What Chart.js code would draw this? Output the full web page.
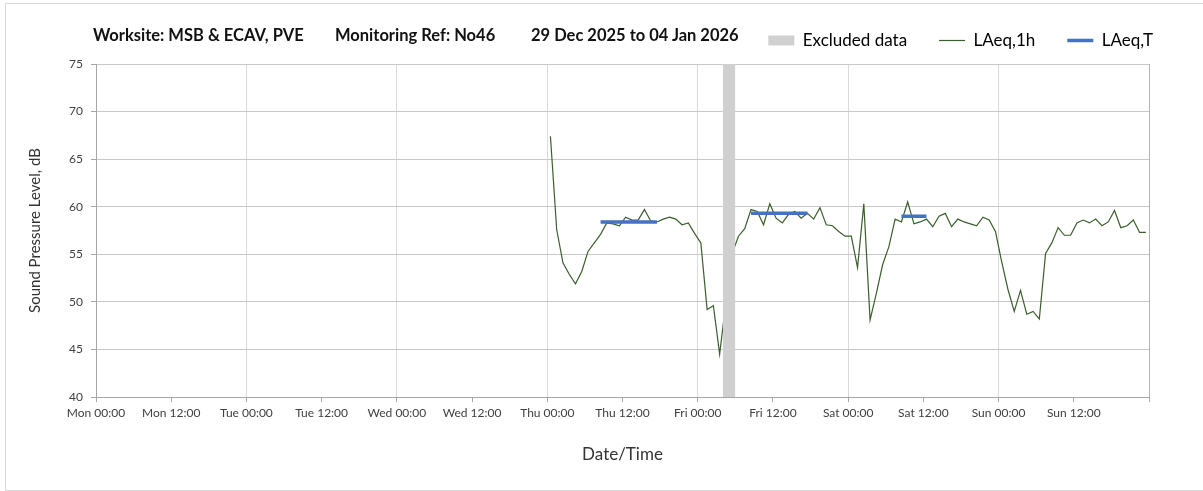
<!DOCTYPE html>
<html>
<head>
<meta charset="utf-8">
<script src="https://cdn.jsdelivr.net/npm/chart.js@4.4.1/dist/chart.umd.min.js"></script>
<style>
  html, body { margin: 0; padding: 0; background: #fff; overflow: hidden; }
  #frame { position: absolute; left: 5px; top: 3px; width: 1250px; height: 486px; border: 1px solid #d9d9d9; }
  #wrap { position: absolute; left: 0; top: 0; width: 1203px; height: 491px; }
  .ttl { position: absolute; top: 25px; font: bold 16.5px Lato, "Open Sans", sans-serif; color: #111; line-height: 20px; white-space: nowrap; }
</style>
</head>
<body>
<div id="frame"></div>
<div id="wrap">
  <canvas id="noiseChart" width="1203" height="491"></canvas>
  <div class="ttl" style="left:93px">Worksite: MSB &amp; ECAV, PVE</div>
  <div class="ttl" style="left:335px">Monitoring Ref: No46</div>
  <div class="ttl" style="left:531px">29 Dec 2025 to 04 Jan 2026</div>
</div>
<script>
// hours counted from Mon 00:00; hourly values are plotted at the middle of each hour
const xTickLabels = ['Mon 00:00', 'Mon 12:00', 'Tue 00:00', 'Tue 12:00', 'Wed 00:00', 'Wed 12:00',
  'Thu 00:00', 'Thu 12:00', 'Fri 00:00', 'Fri 12:00', 'Sat 00:00', 'Sat 12:00', 'Sun 00:00', 'Sun 12:00', ''];
const yTicks = [40, 45, 50, 55, 60, 65, 70, 75];

const firstHour = 72.5; // Thu 00:30
const laeq1h = [
  67.4, 57.6, 54.1, 52.9, 51.9, 53.2, 55.3, 56.2, 57.1, 58.3, 58.2, 58.0,
  58.9, 58.6, 58.6, 59.7, 58.5, 58.4, 58.7, 58.9, 58.7, 58.1, 58.3, 57.2,
  56.2, 49.2, 49.6, 44.5, 50.0, 55.1, 56.9, 57.7, 59.7, 59.5, 58.1, 60.3,
  58.8, 58.3, 59.2, 59.5, 58.8, 59.3, 58.7, 59.9, 58.1, 58.0, 57.4, 56.9,
  56.9, 53.6, 60.3, 48.1, 50.9, 53.9, 55.8, 58.7, 58.4, 60.5, 58.2, 58.4,
  58.7, 57.9, 59.0, 59.3, 57.9, 58.7, 58.4, 58.2, 58.0, 58.9, 58.6, 57.4,
  54.2, 51.3, 49.0, 51.2, 48.7, 49.0, 48.2, 55.1, 56.2, 57.8, 57.0, 57.0,
  58.3, 58.6, 58.3, 58.7, 58.0, 58.4, 59.6, 57.8, 58.0, 58.6, 57.3, 57.3
];

// LAeq,T periods
const laeqTStart = [80.5, 104.5, 128.5];
const laeqTEnd = [89.5, 113.5, 132.5];
const laeqTValues = [58.4, 59.3, 59.0];

// excluded data windows
const excludedStart = [100];
const excludedEnd = [102];

const lineColor = '#3a5f2c';
const blueColor = '#4472c4';
const greyFill = '#d0d0d0';

const laeqPoints = laeq1h.map((v, i) => ({ x: firstHour + i, y: v }));

const laeqTPoints = [];
laeqTValues.forEach((v, i) => {
  laeqTPoints.push({ x: laeqTStart[i], y: v }, { x: laeqTEnd[i], y: v });
  laeqTPoints.push({ x: laeqTEnd[i] + 0.5, y: null });
});

const excludedPoints = [];
excludedStart.forEach((s, i) => {
  excludedPoints.push({ x: s, y: 75 }, { x: excludedEnd[i], y: 75 });
});

Chart.defaults.font.family = 'Lato, "Open Sans", sans-serif';
Chart.defaults.color = '#404040';

new Chart(document.getElementById('noiseChart'), {
  type: 'line',
  data: {
    datasets: [
      {
        label: 'Excluded data',
        data: excludedPoints,
        borderWidth: 0,
        borderColor: greyFill,
        backgroundColor: greyFill,
        fill: 'start',
        pointRadius: 0
      },
      {
        label: 'LAeq,T',
        data: laeqTPoints,
        borderColor: blueColor,
        borderWidth: 3.5,
        pointRadius: 0,
        spanGaps: false
      },
      {
        label: 'LAeq,1h',
        data: laeqPoints,
        borderColor: lineColor,
        borderWidth: 1.2,
        pointRadius: 0,
        tension: 0
      }
    ]
  },
  options: {
    responsive: false,
    animation: false,
    layout: { padding: { top: 0, right: 18, bottom: 0, left: 0 } },
    plugins: {
      tooltip: { enabled: false },
      legend: {
        position: 'top',
        align: 'end',
        labels: {
          usePointStyle: true,
          pointStyleWidth: 26,
          boxHeight: 10,
          padding: 32,
          color: '#333',
          font: { size: 17 },
          generateLabels: function() {
            return [
              { text: 'Excluded data', pointStyle: 'rect', fillStyle: greyFill, strokeStyle: greyFill, lineWidth: 0, datasetIndex: 0 },
              { text: 'LAeq,1h', pointStyle: 'line', fillStyle: lineColor, strokeStyle: lineColor, lineWidth: 1.2, datasetIndex: 2 },
              { text: 'LAeq,T', pointStyle: 'line', fillStyle: blueColor, strokeStyle: blueColor, lineWidth: 3.5, datasetIndex: 1 }
            ];
          }
        }
      }
    },
    scales: {
      x: {
        type: 'linear',
        min: 0,
        max: 168,
        afterFit: function(scale) { scale.height = 94; },
        ticks: {
          stepSize: 12,
          autoSkip: false,
          maxRotation: 0,
          padding: 4,
          color: '#404040',
          font: { size: 12 },
          callback: function(value) { return xTickLabels[value / 12]; }
        },
        grid: {
          color: function(ctx) {
            if (!ctx.tick) return 'transparent';
            if (ctx.tick.value === 168) return '#b3b3b3';
            return ctx.tick.value % 24 === 0 ? '#dadada' : 'transparent';
          },
          tickColor: '#a6a6a6',
          tickLength: 5
        },
        border: { color: '#a6a6a6' },
        title: {
          display: true,
          text: 'Date/Time',
          color: '#333',
          font: { size: 17 },
          padding: { top: 0, bottom: 26 }
        }
      },
      xTop: {
        type: 'linear',
        position: 'top',
        afterFit: function(scale) { scale.height = 5; },
        ticks: { display: false },
        grid: { display: false },
        border: { display: false }
      },
      y: {
        min: 40,
        max: 75,
        afterFit: function(scale) { scale.width = 96; },
        afterBuildTicks: function(scale) { scale.ticks = yTicks.map(v => ({ value: v })); },
        ticks: {
          padding: 8,
          color: '#404040',
          font: { size: 12 }
        },
        grid: { color: '#c8c8c8', tickColor: '#a6a6a6', tickLength: 5 },
        border: { color: '#a6a6a6' },
        title: {
          display: true,
          text: 'Sound Pressure Level, dB',
          color: '#333',
          font: { size: 15 },
          padding: { top: 26, bottom: 0 }
        }
      },
      yRight: {
        type: 'linear',
        position: 'right',
        afterFit: function(scale) { scale.width = 36; },
        ticks: { display: false },
        grid: { display: false },
        border: { display: false }
      }
    }
  }
});
</script>
</body>
</html>
